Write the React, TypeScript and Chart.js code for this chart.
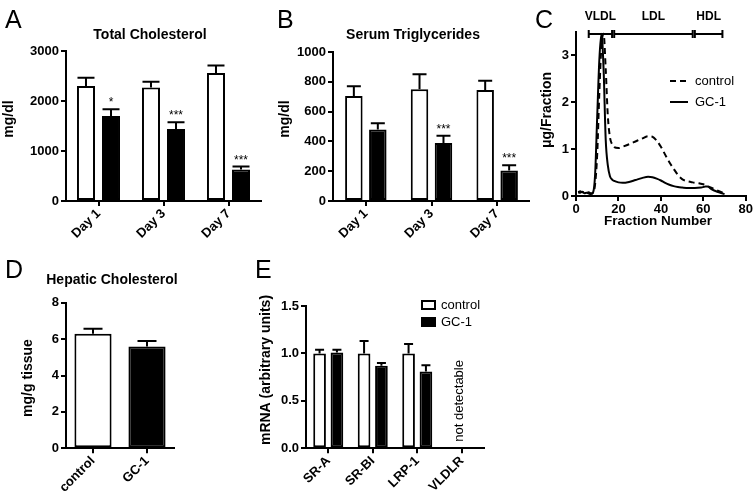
import React, { useEffect, useRef } from "react";
import { Chart, registerables } from "chart.js";
Chart.register(...registerables);

const FONT = "'Liberation Sans', Arial, Helvetica, sans-serif";
Chart.defaults.font.family = FONT;
Chart.defaults.color = "#000";

// ---------- Panel A: Total Cholesterol ----------
const days = ["Day 1", "Day 3", "Day 7"];
const cholControl = [2300, 2270, 2560];
const cholControlErr = [165, 115, 150];
const cholGC1 = [1700, 1440, 630];
const cholGC1Err = [135, 135, 60];
const cholSig = ["*", "***", "***"];

// ---------- Panel B: Serum Triglycerides ----------
const tgControl = [705, 750, 745];
const tgControlErr = [65, 100, 62];
const tgGC1 = [480, 390, 205];
const tgGC1Err = [42, 48, 35];
const tgSig = ["", "***", "***"];

// ---------- Panel C: FPLC profile ----------
const fractionCtrl = [1, 2, 3, 4, 5, 6, 7, 8, 9, 10, 11, 12, 13, 14, 15, 16, 17, 18, 20, 22, 25, 28, 31, 34, 36, 38, 40, 42, 44, 46, 48, 50, 52, 55, 58, 60, 62, 64, 66, 68, 70];
const profileCtrl = [0.08, 0.1, 0.08, 0.09, 0.07, 0.08, 0.06, 0.07, 0.25, 0.9, 2.2, 3.2, 3.45, 2.7, 1.7, 1.25, 1.1, 1.04, 1.02, 1.05, 1.1, 1.16, 1.22, 1.27, 1.26, 1.18, 1.05, 0.88, 0.72, 0.58, 0.45, 0.36, 0.32, 0.29, 0.27, 0.25, 0.21, 0.17, 0.13, 0.09, 0.05];
const fractionGC1 = [1, 2, 3, 4, 5, 6, 7, 8, 9, 10, 11, 12, 13, 14, 15, 16, 17, 18, 20, 22, 25, 28, 31, 34, 36, 38, 40, 42, 44, 46, 48, 50, 53, 56, 59, 61, 62, 64, 66, 68, 70];
const profileGC1 = [0.08, 0.07, 0.09, 0.06, 0.07, 0.05, 0.04, 0.07, 0.45, 1.7, 2.9, 3.45, 2.7, 1.2, 0.65, 0.42, 0.35, 0.32, 0.29, 0.28, 0.3, 0.34, 0.38, 0.41, 0.4, 0.37, 0.33, 0.28, 0.24, 0.21, 0.19, 0.18, 0.17, 0.17, 0.18, 0.2, 0.2, 0.14, 0.1, 0.07, 0.04];
const lipoClasses = ["VLDL", "LDL", "HDL"];
const lipoFrom = [6, 18, 56];
const lipoTo = [17, 55, 69];

// ---------- Panel D: Hepatic Cholesterol ----------
const groups = ["control", "GC-1"];
const hepChol = [6.3, 5.6];
const hepCholErr = [0.27, 0.3];

// ---------- Panel E: mRNA ----------
const genes = ["SR-A", "SR-BI", "LRP-1", "VLDLR"];
const mrnaControl = [1.0, 1.0, 1.0, null];
const mrnaControlErr = [0.04, 0.13, 0.1, null];
const mrnaGC1 = [1.01, 0.87, 0.81, null];
const mrnaGC1Err = [0.03, 0.03, 0.065, null];
const mrnaNote = ["", "", "", "not detectable"];

type Box = { left: number; top: number; width: number; height: number };
type Area = { l: number; t: number; r: number; b: number };
type Label = { text: string; x: number; y: number; size: number; bold?: boolean; rot?: number; align?: CanvasTextAlign; base?: CanvasTextBaseline };

function frame(box: Box, area: Area) {
  return {
    padding: { left: 0, top: area.t - box.top, right: box.left + box.width - area.r, bottom: 0 },
    yWidth: area.l - box.left,
    xHeight: box.top + box.height - area.b,
  };
}

function textPlugin(box: Box, labels: Label[]) {
  return {
    id: "texts",
    afterDraw(chart: any) {
      const ctx = chart.ctx;
      labels.forEach((l) => {
        ctx.save();
        ctx.translate(l.x - box.left, l.y - box.top);
        if (l.rot) ctx.rotate(l.rot);
        ctx.font = `${l.bold ? "bold " : ""}${l.size}px ${FONT}`;
        ctx.fillStyle = "#000";
        ctx.textAlign = l.align || "center";
        ctx.textBaseline = l.base || "middle";
        ctx.fillText(l.text, 0, 0);
        ctx.restore();
      });
    },
  };
}

function errorBarPlugin(cap: number) {
  return {
    id: "errbars",
    afterDatasetsDraw(chart: any) {
      const ctx = chart.ctx;
      const ys = chart.scales.y;
      chart.data.datasets.forEach((ds: any, i: number) => {
        if (!ds.errors) return;
        const meta = chart.getDatasetMeta(i);
        meta.data.forEach((el: any, j: number) => {
          const v = ds.data[j];
          const e = ds.errors[j];
          if (v == null || e == null) return;
          const yb = ys.getPixelForValue(v);
          const yt = ys.getPixelForValue(v + e);
          ctx.save();
          ctx.strokeStyle = "#000";
          ctx.lineWidth = 2;
          ctx.beginPath();
          ctx.moveTo(el.x, yb);
          ctx.lineTo(el.x, yt);
          ctx.moveTo(el.x - cap / 2, yt);
          ctx.lineTo(el.x + cap / 2, yt);
          ctx.stroke();
          if (ds.sig && ds.sig[j]) {
            ctx.fillStyle = "#000";
            ctx.font = `12px ${FONT}`;
            ctx.textAlign = "center";
            ctx.textBaseline = "alphabetic";
            ctx.fillText(ds.sig[j], el.x, yt - 3);
          }
          ctx.restore();
        });
      });
    },
  };
}

const plainNum = (v: any) => String(v);

function yAxis(min: number, max: number, step: number, width: number, fmt: (v: any) => string = plainNum) {
  return {
    min,
    max,
    ticks: { stepSize: step, font: { size: 13, weight: "bold" }, color: "#000", padding: 2, callback: fmt },
    grid: { drawOnChartArea: false, color: "#000", lineWidth: 2, tickLength: 5 },
    border: { display: true, color: "#000", width: 2 },
    afterFit: (s: any) => {
      s.width = width;
    },
  };
}

function xCatAxis(height: number) {
  return {
    ticks: { font: { size: 13, weight: "bold" }, color: "#000", minRotation: 45, maxRotation: 45, padding: 0, autoSkip: false },
    grid: { drawOnChartArea: false, offset: false, color: "#000", lineWidth: 2, tickLength: 5 },
    border: { display: true, color: "#000", width: 2 },
    afterFit: (s: any) => {
      s.height = height;
    },
  };
}

const whiteBar = { backgroundColor: "#fff", borderColor: "#000", borderWidth: 2, borderSkipped: false };
const blackBar = { backgroundColor: "#000", borderColor: "#000", borderWidth: 2, borderSkipped: false };

// ---------- boxes ----------
const boxA: Box = { left: 0, top: 0, width: 262, height: 262 };
const areaA: Area = { l: 66, t: 51, r: 261, b: 201 };
const boxB: Box = { left: 262, top: 0, width: 268, height: 262 };
const areaB: Area = { l: 333, t: 52, r: 530, b: 201 };
const boxC: Box = { left: 530, top: 0, width: 224, height: 262 };
const areaC: Area = { l: 576, t: 31.5, r: 747, b: 196 };
const boxD: Box = { left: 0, top: 250, width: 262, height: 248 };
const areaD: Area = { l: 66, t: 302.7, r: 174, b: 448.3 };
const boxE: Box = { left: 250, top: 250, width: 280, height: 248 };
const areaE: Area = { l: 306, t: 306, r: 484, b: 448.3 };

function baseOptions(pad: any) {
  return {
    responsive: false,
    animation: false as const,
    devicePixelRatio: 1,
    layout: { padding: pad },
    plugins: { legend: { display: false }, tooltip: { enabled: false }, title: { display: false } },
  };
}

function makeA() {
  const f = frame(boxA, areaA);
  return {
    type: "bar",
    data: {
      labels: days,
      datasets: [
        { label: "control", data: cholControl, errors: cholControlErr, ...whiteBar, categoryPercentage: 0.77, barPercentage: 0.72 },
        { label: "GC-1", data: cholGC1, errors: cholGC1Err, sig: cholSig, ...blackBar, categoryPercentage: 0.77, barPercentage: 0.72 },
      ],
    },
    options: { ...baseOptions(f.padding), scales: { x: xCatAxis(f.xHeight), y: yAxis(0, 3000, 1000, f.yWidth) } },
    plugins: [
      errorBarPlugin(17),
      textPlugin(boxA, [
        { text: "A", x: 5, y: 28, size: 25, align: "left", base: "alphabetic" },
        { text: "Total Cholesterol", x: 150, y: 35, size: 14, bold: true },
        { text: "mg/dl", x: 9, y: 119, size: 14, bold: true, rot: -Math.PI / 2 },
      ]),
    ],
  };
}

function makeB() {
  const f = frame(boxB, areaB);
  return {
    type: "bar",
    data: {
      labels: days,
      datasets: [
        { label: "control", data: tgControl, errors: tgControlErr, ...whiteBar, categoryPercentage: 0.73, barPercentage: 0.73 },
        { label: "GC-1", data: tgGC1, errors: tgGC1Err, sig: tgSig, ...blackBar, categoryPercentage: 0.73, barPercentage: 0.73 },
      ],
    },
    options: { ...baseOptions(f.padding), scales: { x: xCatAxis(f.xHeight), y: yAxis(0, 1000, 200, f.yWidth) } },
    plugins: [
      errorBarPlugin(14),
      textPlugin(boxB, [
        { text: "B", x: 277, y: 28, size: 25, align: "left", base: "alphabetic" },
        { text: "Serum Triglycerides", x: 413, y: 35, size: 14, bold: true },
        { text: "mg/dl", x: 285, y: 119, size: 14, bold: true, rot: -Math.PI / 2 },
      ]),
    ],
  };
}

function lipoPlugin(box: Box) {
  return {
    id: "lipo",
    afterDraw(chart: any) {
      const ctx = chart.ctx;
      const xs = chart.scales.x;
      const y = chart.chartArea.top + 2.5;
      ctx.save();
      ctx.strokeStyle = "#000";
      ctx.fillStyle = "#000";
      ctx.lineWidth = 2;
      ctx.font = `bold 12px ${FONT}`;
      ctx.textAlign = "center";
      ctx.textBaseline = "middle";
      lipoClasses.forEach((name, i) => {
        const a = xs.getPixelForValue(lipoFrom[i]);
        const b = xs.getPixelForValue(lipoTo[i]);
        ctx.beginPath();
        ctx.moveTo(a, y);
        ctx.lineTo(b, y);
        ctx.moveTo(a, y - 4);
        ctx.lineTo(a, y + 4);
        ctx.moveTo(b, y - 4);
        ctx.lineTo(b, y + 4);
        ctx.stroke();
        ctx.fillText(name, (a + b) / 2, y - 17);
      });
      // legend
      chart.data.datasets.forEach((ds: any, i: number) => {
        const ly = 81 + i * 21 - box.top;
        const lx = 670 - box.left;
        ctx.save();
        ctx.lineWidth = 2;
        ctx.setLineDash(ds.borderDash || []);
        ctx.beginPath();
        ctx.moveTo(lx, ly);
        ctx.lineTo(lx + 18, ly);
        ctx.stroke();
        ctx.restore();
        ctx.font = `13px ${FONT}`;
        ctx.textAlign = "left";
        ctx.fillText(ds.label, lx + 25, ly);
      });
      ctx.restore();
    },
  };
}

function makeC() {
  const f = frame(boxC, areaC);
  const line = { borderColor: "#000", borderWidth: 2, pointRadius: 0, cubicInterpolationMode: "monotone", fill: false };
  return {
    type: "line",
    data: {
      datasets: [
        { label: "control", data: fractionCtrl.map((x, i) => ({ x, y: profileCtrl[i] })), borderDash: [6, 4], ...line },
        { label: "GC-1", data: fractionGC1.map((x, i) => ({ x, y: profileGC1[i] })), ...line },
      ],
    },
    options: {
      ...baseOptions(f.padding),
      scales: {
        x: {
          type: "linear",
          min: 0,
          max: 80,
          ticks: { stepSize: 20, font: { size: 13, weight: "bold" }, color: "#000", padding: 1, maxRotation: 0, callback: plainNum },
          grid: { drawOnChartArea: false, color: "#000", lineWidth: 2, tickLength: 5 },
          border: { display: true, color: "#000", width: 2 },
          afterFit: (s: any) => {
            s.height = f.xHeight;
          },
        },
        y: {
          ...yAxis(0, 3.5, 1, f.yWidth),
          afterBuildTicks: (s: any) => {
            s.ticks = s.ticks.filter((t: any) => Number.isInteger(t.value));
          },
        },
      },
    },
    plugins: [
      lipoPlugin(boxC),
      textPlugin(boxC, [
        { text: "C", x: 535, y: 28, size: 25, align: "left", base: "alphabetic" },
        { text: "μg/Fraction", x: 547.5, y: 110, size: 14, bold: true, rot: -Math.PI / 2 },
        { text: "Fraction Number", x: 658, y: 221, size: 13.5, bold: true },
      ]),
    ],
  };
}

function makeD() {
  const f = frame(boxD, areaD);
  return {
    type: "bar",
    data: {
      labels: groups,
      datasets: [
        {
          label: "Hepatic Cholesterol",
          data: hepChol,
          errors: hepCholErr,
          backgroundColor: ["#fff", "#000"],
          borderColor: "#000",
          borderWidth: 2,
          borderSkipped: false,
          categoryPercentage: 0.8,
          barPercentage: 0.86,
        },
      ],
    },
    options: { ...baseOptions(f.padding), scales: { x: xCatAxis(f.xHeight), y: yAxis(0, 8, 2, f.yWidth) } },
    plugins: [
      errorBarPlugin(19),
      textPlugin(boxD, [
        { text: "D", x: 5, y: 278, size: 25, align: "left", base: "alphabetic" },
        { text: "Hepatic Cholesterol", x: 112, y: 280, size: 14, bold: true },
        { text: "mg/g tissue", x: 28, y: 378, size: 14, bold: true, rot: -Math.PI / 2 },
      ]),
    ],
  };
}

function eExtras(box: Box) {
  return {
    id: "eExtras",
    afterDraw(chart: any) {
      const ctx = chart.ctx;
      const xs = chart.scales.x;
      const ys = chart.scales.y;
      ctx.save();
      ctx.fillStyle = "#000";
      ctx.strokeStyle = "#000";
      mrnaNote.forEach((note, i) => {
        if (!note) return;
        ctx.save();
        ctx.translate(xs.getPixelForValue(i) - 2, ys.getPixelForValue(0.5));
        ctx.rotate(-Math.PI / 2);
        ctx.font = `13px ${FONT}`;
        ctx.textAlign = "center";
        ctx.textBaseline = "middle";
        ctx.fillText(note, 0, 0);
        ctx.restore();
      });
      chart.data.datasets.forEach((ds: any, i: number) => {
        const bx = 421 - box.left;
        const by = 300 + i * 17 - box.top;
        ctx.fillStyle = ds.backgroundColor;
        ctx.fillRect(bx, by, 15, 10);
        ctx.lineWidth = 2;
        ctx.strokeRect(bx + 1, by + 1, 13, 8);
        ctx.fillStyle = "#000";
        ctx.font = `13px ${FONT}`;
        ctx.textAlign = "left";
        ctx.textBaseline = "middle";
        ctx.fillText(ds.label, bx + 20, by + 5);
      });
      ctx.restore();
    },
  };
}

function makeE() {
  const f = frame(boxE, areaE);
  return {
    type: "bar",
    data: {
      labels: genes,
      datasets: [
        { label: "control", data: mrnaControl, errors: mrnaControlErr, ...whiteBar, categoryPercentage: 0.78, barPercentage: 0.73 },
        { label: "GC-1", data: mrnaGC1, errors: mrnaGC1Err, ...blackBar, categoryPercentage: 0.78, barPercentage: 0.73 },
      ],
    },
    options: {
      ...baseOptions(f.padding),
      scales: { x: xCatAxis(f.xHeight), y: yAxis(0, 1.5, 0.5, f.yWidth, (v: any) => Number(v).toFixed(1)) },
    },
    plugins: [
      errorBarPlugin(9),
      eExtras(boxE),
      textPlugin(boxE, [
        { text: "E", x: 255, y: 278, size: 25, align: "left", base: "alphabetic" },
        { text: "mRNA (arbitrary units)", x: 266, y: 370, size: 14, bold: true, rot: -Math.PI / 2 },
      ]),
    ],
  };
}

function ChartCanvas({ box, make }: { box: Box; make: () => any }) {
  const ref = useRef<HTMLCanvasElement>(null);
  useEffect(() => {
    const chart = new Chart(ref.current as HTMLCanvasElement, make());
    return () => chart.destroy();
  }, []);
  return (
    <canvas
      ref={ref}
      width={box.width}
      height={box.height}
      style={{ position: "absolute", left: box.left, top: box.top, width: box.width, height: box.height }}
    />
  );
}

export default function App() {
  return (
    <div style={{ position: "absolute", left: 0, top: 0, width: 754, height: 498, background: "#fff", overflow: "hidden" }}>
      <ChartCanvas box={boxA} make={makeA} />
      <ChartCanvas box={boxB} make={makeB} />
      <ChartCanvas box={boxC} make={makeC} />
      <ChartCanvas box={boxD} make={makeD} />
      <ChartCanvas box={boxE} make={makeE} />
    </div>
  );
}
